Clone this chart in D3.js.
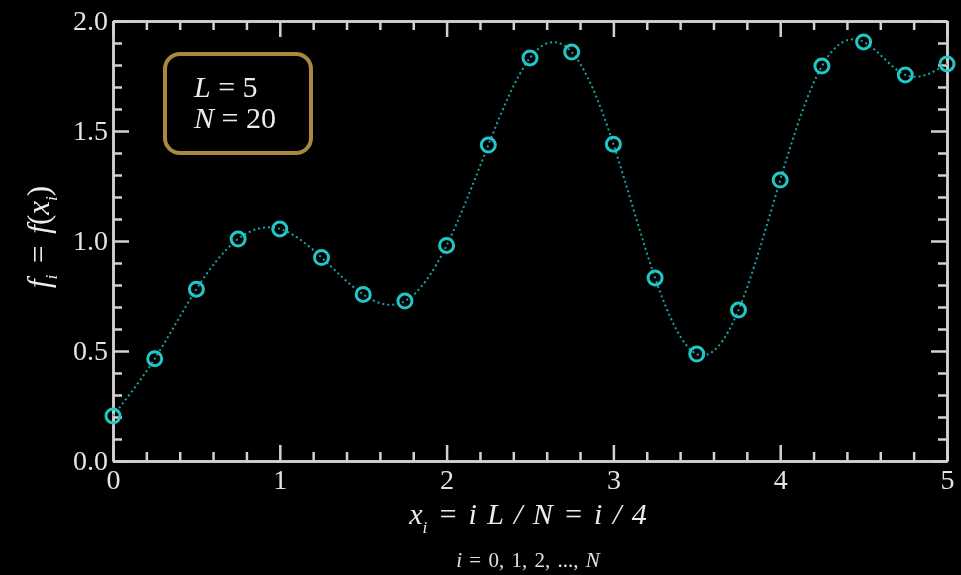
<!DOCTYPE html>
<html>
<head>
<meta charset="utf-8">
<script src="https://cdn.jsdelivr.net/npm/d3@7"></script>
<style>
  html, body { margin: 0; padding: 0; background: #000; }
  svg { display: block; }
  text { font-family: "Liberation Serif", "Times New Roman", serif; }
</style>
</head>
<body>
<svg id="chart" width="961" height="575"></svg>
<script>
// Sample index i = 0..N and sampled values f_i = f(x_i), x_i = i/4
const sampleIndex = d3.range(0, 21);
const sampleX = sampleIndex.map(i => i / 4);
const sampleF = [0.205, 0.465, 0.781, 1.009, 1.055, 0.925, 0.757, 0.727, 0.980, 1.436,
                 1.832, 1.859, 1.440, 0.832, 0.486, 0.686, 1.277, 1.795, 1.905, 1.755, 1.805];

const xMajorTicks = [0, 1, 2, 3, 4, 5];
const xMinorTicks = d3.range(0, 5.0001, 0.2).map(v => +v.toFixed(1)).filter(v => !xMajorTicks.includes(v));
const yMajorTicks = [0, 0.5, 1.0, 1.5, 2.0];
const yMinorTicks = d3.range(0, 2.0001, 0.1).map(v => +v.toFixed(1)).filter(v => !yMajorTicks.includes(v));

const legendLines = [["L", " = 5"], ["N", " = 20"]];

const svg = d3.select("#chart");
const W = 961, H = 575;
const margin = { left: 113, right: 14, top: 21, bottom: 114 };

svg.append("defs").append("filter").attr("id", "soft")
  .attr("x", "-5%").attr("y", "-5%").attr("width", "110%").attr("height", "110%")
  .append("feGaussianBlur").attr("stdDeviation", 0.6);

const root = svg.append("g").attr("filter", "url(#soft)");
root.append("rect").attr("width", W).attr("height", H).attr("fill", "#000");

const x = d3.scaleLinear().domain([0, 5]).range([margin.left, W - margin.right]);
const y = d3.scaleLinear().domain([0, 2]).range([H - margin.bottom, margin.top]);

const axisColor = "#d2d2d2";
const labelColor = "#e4e4e4";
const majorLen = 16, minorLen = 9;

function styleAxis(g) {
  g.selectAll("path.domain").attr("stroke", axisColor).attr("stroke-width", 2.5);
  g.selectAll(".tick line").attr("stroke", axisColor).attr("stroke-width", 2.5);
  g.selectAll(".tick text").attr("fill", labelColor)
    .style("font-size", "28px").style("font-family", "Liberation Serif, serif");
}

// bottom
root.append("g").attr("transform", `translate(0,${y(0)})`)
  .call(d3.axisBottom(x).tickValues(xMinorTicks).tickSize(-minorLen).tickSizeOuter(0).tickFormat(""))
  .call(styleAxis);
root.append("g").attr("transform", `translate(0,${y(0)})`)
  .call(d3.axisBottom(x).tickValues(xMajorTicks).tickSize(-majorLen).tickSizeOuter(0).tickPadding(8).tickFormat(d3.format("d")))
  .call(styleAxis);
// top
root.append("g").attr("transform", `translate(0,${y(2)})`)
  .call(d3.axisTop(x).tickValues(xMinorTicks).tickSize(-minorLen).tickSizeOuter(0).tickFormat(""))
  .call(styleAxis);
root.append("g").attr("transform", `translate(0,${y(2)})`)
  .call(d3.axisTop(x).tickValues(xMajorTicks).tickSize(-majorLen).tickSizeOuter(0).tickFormat(""))
  .call(styleAxis);
// left
root.append("g").attr("transform", `translate(${x(0)},0)`)
  .call(d3.axisLeft(y).tickValues(yMinorTicks).tickSize(-minorLen).tickSizeOuter(0).tickFormat(""))
  .call(styleAxis);
root.append("g").attr("transform", `translate(${x(0)},0)`)
  .call(d3.axisLeft(y).tickValues(yMajorTicks).tickSize(-majorLen).tickSizeOuter(0).tickPadding(5).tickFormat(d3.format(".1f")))
  .call(styleAxis);
// right
root.append("g").attr("transform", `translate(${x(5)},0)`)
  .call(d3.axisRight(y).tickValues(yMinorTicks).tickSize(-minorLen).tickSizeOuter(0).tickFormat(""))
  .call(styleAxis);
root.append("g").attr("transform", `translate(${x(5)},0)`)
  .call(d3.axisRight(y).tickValues(yMajorTicks).tickSize(-majorLen).tickSizeOuter(0).tickFormat(""))
  .call(styleAxis);

// smooth dotted curve through the samples
const pts = sampleX.map((xv, k) => [xv, sampleF[k]]);
const line = d3.line().x(d => x(d[0])).y(d => y(d[1])).curve(d3.curveNatural);
root.append("path").datum(pts)
  .attr("d", line)
  .attr("fill", "none")
  .attr("stroke", "#1aa3a3")
  .attr("stroke-width", 2)
  .attr("stroke-dasharray", "2 3");

// sample markers
root.append("g").selectAll("circle").data(pts).join("circle")
  .attr("cx", d => x(d[0])).attr("cy", d => y(d[1]))
  .attr("r", 7)
  .attr("fill", "none")
  .attr("stroke", "#22c6c6")
  .attr("stroke-width", 3);

// parameter box
root.append("rect")
  .attr("x", 165).attr("y", 54).attr("width", 146).attr("height", 99).attr("rx", 15)
  .attr("fill", "none").attr("stroke", "#a8893c").attr("stroke-width", 4);
legendLines.forEach((ln, k) => {
  const t = root.append("text").attr("x", 194).attr("y", 97 + k * 31)
    .attr("fill", "#ececec").style("font-size", "30px");
  t.append("tspan").style("font-style", "italic").text(ln[0]);
  t.append("tspan").text(ln[1]);
});

// x axis title
const xt = root.append("text").attr("x", 528).attr("y", 524).attr("text-anchor", "middle")
  .attr("fill", "#ececec").style("font-size", "30px").style("font-style", "italic")
  .style("word-spacing", "3px");
xt.append("tspan").text("x");
xt.append("tspan").attr("dy", 9).style("font-size", "17px").text("i");
xt.append("tspan").attr("dy", -9).text(" = i L / N = i / 4");

root.append("text").attr("x", 528).attr("y", 567).attr("text-anchor", "middle")
  .attr("fill", "#e0e0e0").style("font-size", "21px").style("word-spacing", "2px")
  .call(t => {
    t.append("tspan").style("font-style", "italic").text("i");
    t.append("tspan").text(" = 0, 1, 2, ..., ");
    t.append("tspan").style("font-style", "italic").text("N");
  });

// y axis title
const yt = root.append("text").attr("transform", "translate(49,237) rotate(-90)")
  .attr("text-anchor", "middle").attr("fill", "#ececec").style("font-size", "31px")
  .style("word-spacing", "4px");
yt.append("tspan").style("font-style", "italic").text("f");
yt.append("tspan").attr("dy", 8).style("font-size", "17px").style("font-style", "italic").text("i");
yt.append("tspan").attr("dy", -8).text(" = ");
yt.append("tspan").style("font-style", "italic").text("f");
yt.append("tspan").text("(");
yt.append("tspan").style("font-style", "italic").text("x");
yt.append("tspan").attr("dy", 8).style("font-size", "17px").style("font-style", "italic").text("i");
yt.append("tspan").attr("dy", -8).text(")");
</script>
</body>
</html>
